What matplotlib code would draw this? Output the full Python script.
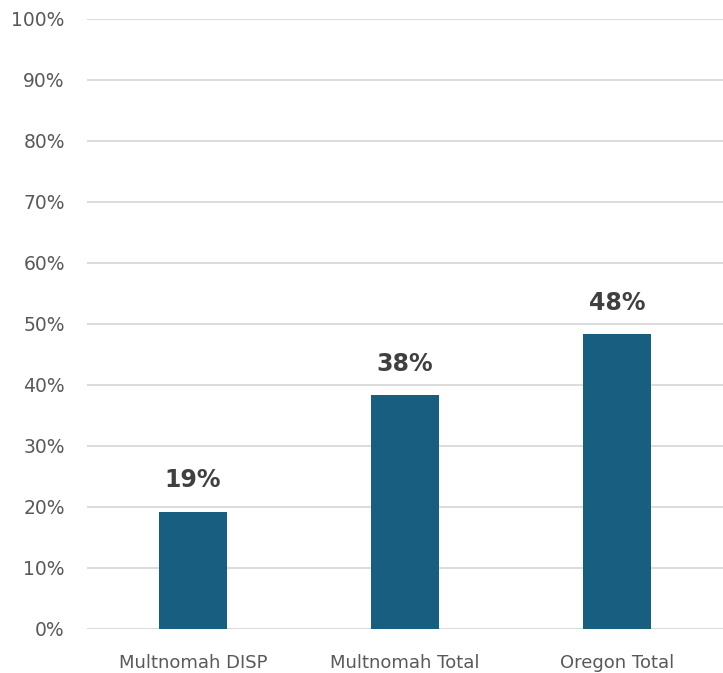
import matplotlib.pyplot as plt
from matplotlib.ticker import PercentFormatter

categories = ["Multnomah DISP", "Multnomah Total", "Oregon Total"]
values = [19.2, 38.3, 48.3]
y_ticks = list(range(0, 101, 10))

bar_color = "#175e80"
grid_color = "#d9d9d9"
text_color = "#595959"

fig = plt.figure(figsize=(7.23, 6.73), dpi=100)
ax = fig.add_axes([0.1203, 0.0654, 0.8797, 0.9064])

x = range(len(categories))
bars = ax.bar(x, values, width=0.32, color=bar_color, zorder=3)

for b, v in zip(bars, values):
    ax.text(b.get_x() + b.get_width() / 2, v + 3.2, f"{round(v)}%",
            ha="center", va="bottom", fontsize=17, fontweight="bold",
            color="#404040")

ax.set_xlim(-0.5, len(categories) - 0.5)
ax.set_ylim(0, 100)
ax.set_yticks(y_ticks)
ax.yaxis.set_major_formatter(PercentFormatter(decimals=0))
ax.set_xticks(list(x))
ax.set_xticklabels(categories)

ax.grid(axis="y", color=grid_color, linewidth=1.3, zorder=0)
for s in ax.spines.values():
    s.set_visible(False)
ax.tick_params(axis="both", length=0, colors=text_color, labelsize=13)
ax.tick_params(axis="y", labelsize=13.5, pad=16)
ax.tick_params(axis="x", pad=18)

fig.savefig("out.png", dpi=100)
